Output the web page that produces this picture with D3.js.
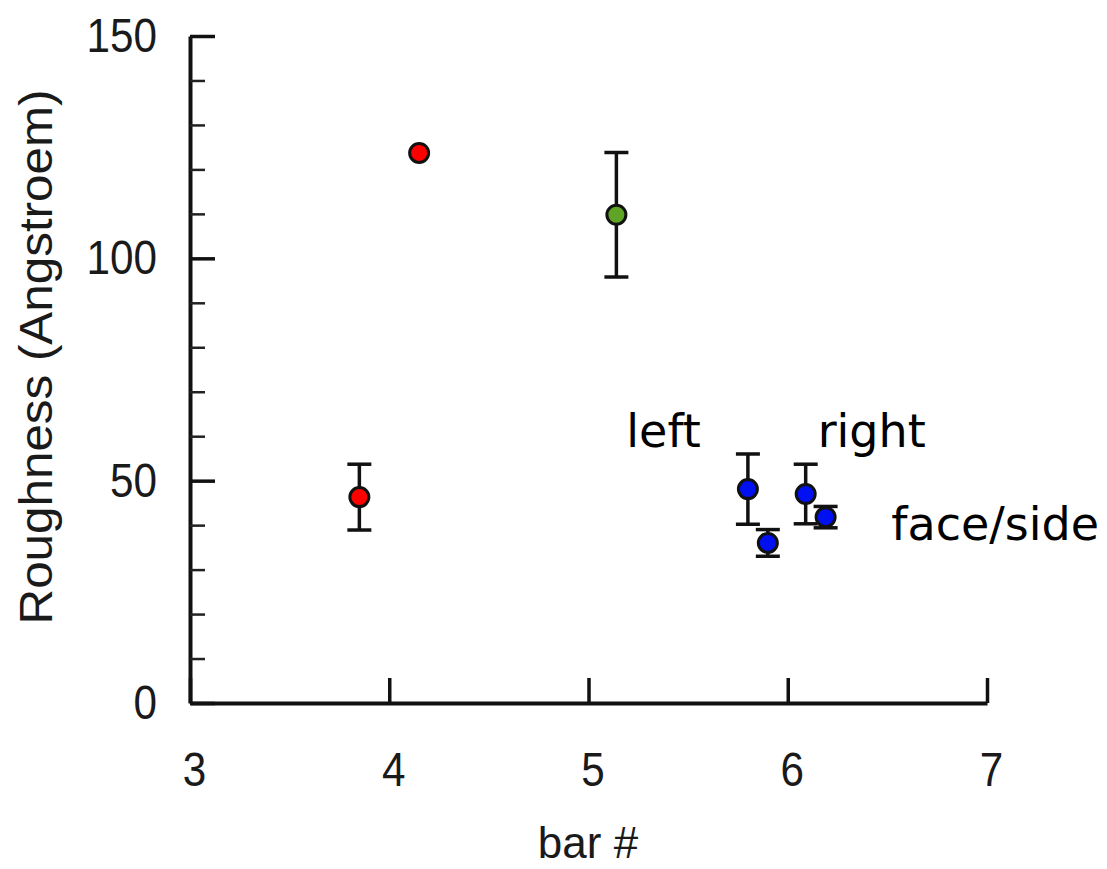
<!DOCTYPE html>
<html>
<head>
<meta charset="utf-8">
<script src="https://cdn.jsdelivr.net/npm/d3@7"></script>
<style>
  body { margin: 0; background: #fff; }
</style>
</head>
<body>
<div id="chart"></div>
<script>
// datos
const barNumbers = [3.85, 4.15, 5.14, 5.80, 5.90, 6.09, 6.19];
const roughness = [46.3, 123.7, 109.8, 48.1, 36.0, 47.0, 41.8];
const roughnessErr = [7.4, 0, 14.0, 7.9, 3.0, 6.7, 2.4];
const pointGroups = ['red', 'red', 'green', 'blue', 'blue', 'blue', 'blue'];
const xTicks = [3, 4, 5, 6, 7];
const yTicks = [0, 50, 100, 150];
const yMinorTicks = [10, 20, 30, 40, 60, 70, 80, 90, 110, 120, 130, 140];
const notes = [
    { text: 'left', x: 5.19, y: 57.5 },
    { text: 'right', x: 6.15, y: 57.5 },
    { text: 'face/side', x: 6.52, y: 36.6 }
];

const width = 1107;
const height = 869;

const colores = { red: '#ff0000', green: '#5fa424', blue: '#0010f0' };

const svg = d3.select('#chart')
    .append('svg')
    .attr('width', width)
    .attr('height', height);

const x = d3.scaleLinear().domain([3, 7]).range([190, 987]);
const y = d3.scaleLinear().domain([0, 150]).range([703, 36]);

// eje Y con marcas hacia dentro
const yAxis = svg.append('g')
    .attr('transform', `translate(${x(3)},0)`)
    .call(d3.axisLeft(y).tickValues(yTicks).tickSizeInner(-25).tickSizeOuter(0).tickPadding(33));

svg.append('g')
    .attr('transform', `translate(${x(3)},0)`)
    .call(d3.axisLeft(y).tickValues(yMinorTicks).tickSizeInner(-15).tickSizeOuter(0).tickFormat(''))
    .call(g => g.select('.domain').remove())
    .selectAll('line').attr('stroke', '#222').attr('stroke-width', 2.5);

// eje X
const xAxis = svg.append('g')
    .attr('transform', `translate(0,${y(0)})`)
    .call(d3.axisBottom(x).tickValues(xTicks).tickFormat(d3.format('d'))
        .tickSizeInner(-25).tickSizeOuter(0).tickPadding(49));

[yAxis, xAxis].forEach(g => {
    g.select('.domain').attr('stroke', '#111').attr('stroke-width', 4);
    g.selectAll('.tick line').attr('stroke', '#111').attr('stroke-width', 3.5);
    g.selectAll('.tick text')
        .attr('font-family', 'Liberation Sans, Arial, sans-serif')
        .attr('font-size', 48)
        .attr('fill', '#1a1a1a')
        .each(function () {
            const w = this.getComputedTextLength();
            d3.select(this).attr('textLength', w * 0.88).attr('lengthAdjust', 'spacingAndGlyphs');
        });
});
xAxis.selectAll('.tick text').attr('dx', 4);

// títulos de los ejes
svg.append('text')
    .attr('transform', `translate(52,${357}) rotate(-90)`)
    .attr('text-anchor', 'middle')
    .attr('font-family', 'Liberation Sans, Arial, sans-serif')
    .attr('font-size', 46)
    .attr('fill', '#1a1a1a')
    .attr('textLength', 535)
    .attr('lengthAdjust', 'spacingAndGlyphs')
    .text('Roughness (Angstroem)');

svg.append('text')
    .attr('x', 588)
    .attr('y', 858)
    .attr('text-anchor', 'middle')
    .attr('font-family', 'Liberation Sans, Arial, sans-serif')
    .attr('font-size', 44)
    .attr('fill', '#1a1a1a')
    .text('bar #');

// barras de error
const datos = barNumbers.map((b, i) => ({ b, r: roughness[i], e: roughnessErr[i], g: pointGroups[i] }));
const conError = datos.filter(d => d.e > 0);
const cap = 12;

const errG = svg.append('g').attr('stroke', '#111').attr('stroke-width', 3.5);
errG.selectAll('.vert').data(conError).join('line')
    .attr('x1', d => x(d.b)).attr('x2', d => x(d.b))
    .attr('y1', d => y(d.r + d.e)).attr('y2', d => y(d.r - d.e));
errG.selectAll('.top').data(conError).join('line')
    .attr('x1', d => x(d.b) - cap).attr('x2', d => x(d.b) + cap)
    .attr('y1', d => y(d.r + d.e)).attr('y2', d => y(d.r + d.e));
errG.selectAll('.bot').data(conError).join('line')
    .attr('x1', d => x(d.b) - cap).attr('x2', d => x(d.b) + cap)
    .attr('y1', d => y(d.r - d.e)).attr('y2', d => y(d.r - d.e));

// puntos
svg.append('g').selectAll('circle').data(datos).join('circle')
    .attr('cx', d => x(d.b))
    .attr('cy', d => y(d.r))
    .attr('r', 9.5)
    .attr('fill', d => colores[d.g])
    .attr('stroke', '#111')
    .attr('stroke-width', 3);

// anotaciones
svg.append('g').selectAll('text').data(notes).join('text')
    .attr('x', d => x(d.x))
    .attr('y', d => y(d.y))
    .attr('font-family', 'DejaVu Sans, sans-serif')
    .attr('font-size', 46)
    .attr('fill', '#000')
    .text(d => d.text);
</script>
</body>
</html>
